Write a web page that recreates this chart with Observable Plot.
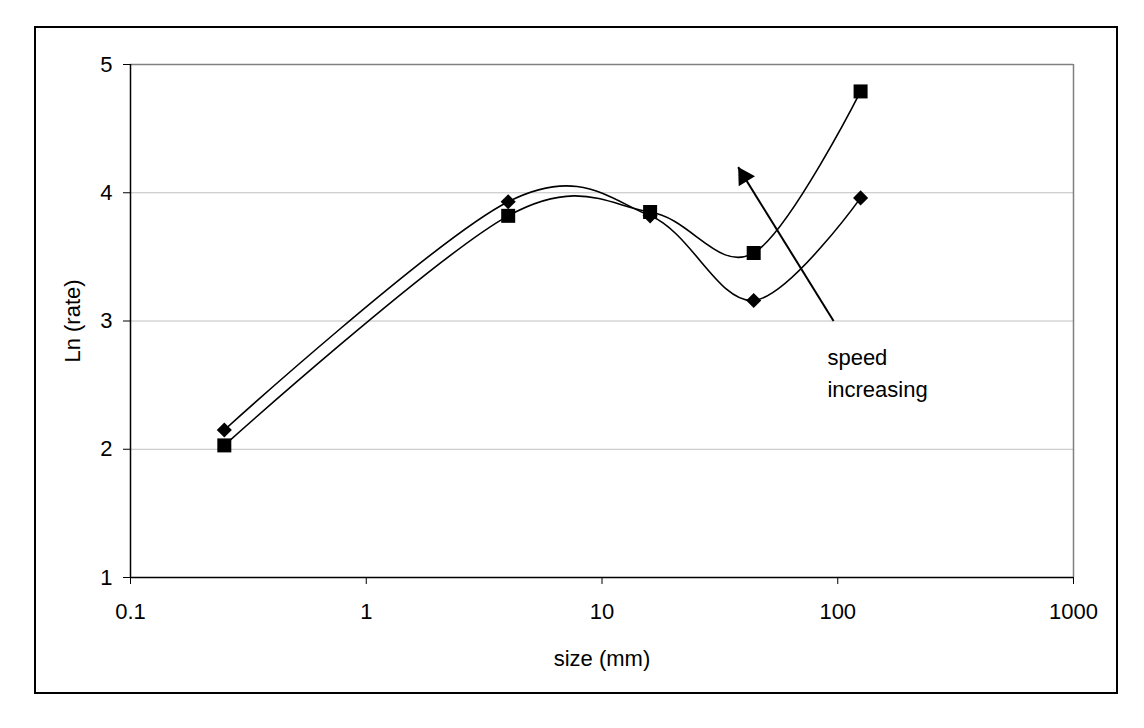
<!DOCTYPE html>
<html>
<head>
<meta charset="utf-8">
<script src="https://cdn.jsdelivr.net/npm/d3@7"></script>
<script src="https://cdn.jsdelivr.net/npm/@observablehq/plot@0.6"></script>
<style>
  html, body { margin: 0; padding: 0; background: #fff; }
  #wrap { position: relative; width: 1144px; height: 728px; }
  #wrap svg { position: absolute; left: 0; top: 0; }
  #border { position: absolute; left: 34px; top: 26px; width: 1084px; height: 668px;
            border: 2px solid #000; box-sizing: border-box; pointer-events: none; }
</style>
</head>
<body>
<div id="wrap"><div id="border"></div></div>
<script>
// Particle size (mm) and Ln(rate) for the two speed settings
const sizes = [0.25, 4, 16, 44, 125];
const rateLow = [2.15, 3.93, 3.82, 3.16, 3.96];   // diamonds
const rateHigh = [2.03, 3.82, 3.85, 3.53, 4.79];  // squares

// Axis ticks
const xTicks = [0.1, 1, 10, 100, 1000];
const xTickLabels = ["0.1", "1", "10", "100", "1000"];
const yTicks = [1, 2, 3, 4, 5];
const yGrid = [2, 3, 4];

// Annotation: arrow from tail to tip, and its note (data coordinates)
const arrowTail = {x: 96, y: 3.0};
const arrowTip = {x: 37.8, y: 4.2};
const note = {x: 90.4, y: 2.83, text: "speed\nincreasing"};

const xLabel = "size (mm)";
const yLabel = "Ln (rate)";

const rows = [
  ...sizes.map((s, i) => ({size: s, rate: rateLow[i], series: "low"})),
  ...sizes.map((s, i) => ({size: s, rate: rateHigh[i], series: "high"}))
];

const chart = Plot.plot({
  width: 1144,
  height: 728,
  marginLeft: 130,
  marginRight: 71,
  marginTop: 64,
  marginBottom: 151,
  style: {
    fontFamily: "'Liberation Sans', Arial, sans-serif",
    fontSize: "22px",
    color: "#000",
    background: "transparent"
  },
  x: {type: "log", domain: [0.1, 1000]},
  y: {domain: [1, 5]},
  marks: [
    Plot.ruleY(yGrid, {stroke: "#c0c0c0", strokeWidth: 1}),
    Plot.ruleY([5], {stroke: "#808080", strokeWidth: 1.5}),
    Plot.ruleX([1000], {stroke: "#808080", strokeWidth: 1.5}),
    Plot.axisX({
      ticks: xTicks,
      tickFormat: (d, i) => xTickLabels[xTicks.indexOf(d)],
      tickSize: 7,
      tickPadding: 19,
      label: null
    }),
    Plot.axisY({
      ticks: yTicks,
      tickFormat: d => String(d),
      tickSize: 7,
      tickPadding: 11,
      label: null
    }),
    Plot.ruleX([0.1], {stroke: "#000", strokeWidth: 1.5}),
    Plot.ruleY([1], {stroke: "#000", strokeWidth: 1.5}),
    Plot.line(rows, {x: "size", y: "rate", z: "series", curve: "cardinal", stroke: "#000", strokeWidth: 1.6}),
    Plot.dot(rows.filter(d => d.series === "low"), {x: "size", y: "rate", symbol: "diamond2", r: 6.8, fill: "#000", stroke: "none"}),
    Plot.dot(rows.filter(d => d.series === "high"), {x: "size", y: "rate", symbol: "square", r: 7.9, fill: "#000", stroke: "none"}),
    Plot.link([{x1: arrowTail.x, y1: arrowTail.y, x2: arrowTip.x, y2: arrowTip.y}], {
      x1: "x1", y1: "y1", x2: "x2", y2: "y2", stroke: "#000", strokeWidth: 2
    }),
    Plot.dot([arrowTip], {x: "x", y: "y", symbol: "triangle", r: 7.1, rotate: -31.7, dx: 5.8, dy: 9.4, fill: "#000", stroke: "none"}),
    Plot.text([note], {x: "x", y: "y", text: "text", textAnchor: "start", lineAnchor: "top", lineHeight: 1.45, fill: "#000"}),
    Plot.text([xLabel], {frameAnchor: "bottom", dy: 81, text: d => d, lineAnchor: "middle", fill: "#000"}),
    Plot.text([yLabel], {frameAnchor: "left", dx: -58, rotate: -90, text: d => d, textAnchor: "middle", lineAnchor: "middle", fill: "#000"})
  ]
});

document.getElementById("wrap").prepend(chart);
</script>
</body>
</html>
